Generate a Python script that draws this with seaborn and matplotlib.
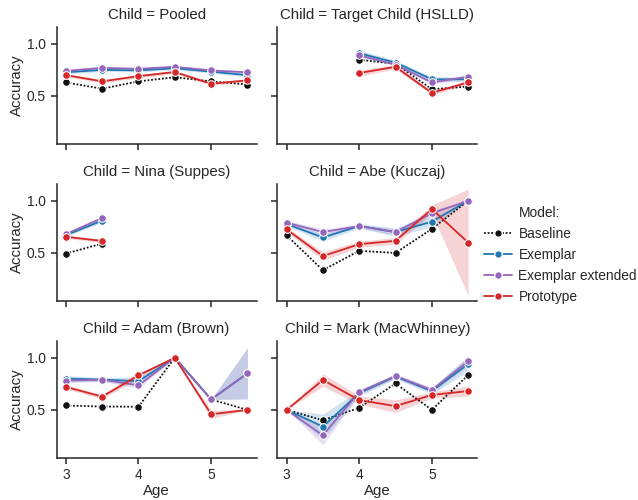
import numpy as np
import pandas as pd
import matplotlib
matplotlib.use("Agg")
import matplotlib.pyplot as plt
from matplotlib.lines import Line2D
import seaborn as sns

nan = np.nan

ages = [3, 3.5, 4, 4.5, 5, 5.5]
children = [
    "Pooled",
    "Target Child (HSLLD)",
    "Nina (Suppes)",
    "Abe (Kuczaj)",
    "Adam (Brown)",
    "Mark (MacWhinney)",
]
models = ["Baseline", "Exemplar", "Exemplar extended", "Prototype"]

# one row per child, one column per age
baseline_acc = [
    [0.63, 0.57, 0.64, 0.68, 0.64, 0.61],
    [nan, nan, 0.847, 0.81, 0.565, 0.59],
    [0.494, 0.59, nan, nan, nan, nan],
    [0.668, 0.335, 0.52, 0.50, 0.73, 1.0],
    [0.542, 0.532, 0.53, 1.0, 0.60, 0.50],
    [0.50, 0.40, 0.52, 0.753, 0.50, 0.834],
]
exemplar_acc = [
    [0.727, 0.75, 0.745, 0.766, 0.733, 0.70],
    [nan, nan, 0.91, 0.82, 0.66, 0.66],
    [0.67, 0.81, nan, nan, nan, nan],
    [0.777, 0.648, 0.758, 0.70, 0.80, 1.0],
    [0.80, 0.79, 0.775, 1.0, 0.60, 0.85],
    [0.50, 0.34, 0.66, 0.82, 0.68, 0.94],
]
extended_acc = [
    [0.74, 0.77, 0.76, 0.78, 0.745, 0.727],
    [nan, nan, 0.89, 0.80, 0.63, 0.685],
    [0.68, 0.835, nan, nan, nan, nan],
    [0.79, 0.70, 0.758, 0.70, 0.88, 1.0],
    [0.78, 0.79, 0.735, 1.0, 0.60, 0.85],
    [0.50, 0.256, 0.67, 0.825, 0.69, 0.967],
]
prototype_acc = [
    [0.70, 0.64, 0.69, 0.73, 0.617, 0.65],
    [nan, nan, 0.72, 0.78, 0.53, 0.63],
    [0.655, 0.615, nan, nan, nan, nan],
    [0.726, 0.47, 0.584, 0.616, 0.92, 0.60],
    [0.72, 0.627, 0.83, 1.0, 0.458, 0.50],
    [0.50, 0.786, 0.594, 0.536, 0.643, 0.68],
]

# half width of the confidence band
exemplar_ci = [
    [0.015, 0.015, 0.015, 0.015, 0.015, 0.015],
    [nan, nan, 0.03, 0.02, 0.025, 0.02],
    [0.015, 0.015, nan, nan, nan, nan],
    [0.02, 0.035, 0.02, 0.04, 0.05, 0.0],
    [0.03, 0.02, 0.04, 0.0, 0.0, 0.245],
    [0.0, 0.12, 0.03, 0.02, 0.03, 0.07],
]
extended_ci = [
    [0.012, 0.012, 0.012, 0.012, 0.012, 0.012],
    [nan, nan, 0.02, 0.015, 0.02, 0.015],
    [0.015, 0.015, nan, nan, nan, nan],
    [0.02, 0.03, 0.015, 0.03, 0.03, 0.0],
    [0.02, 0.015, 0.03, 0.0, 0.0, 0.245],
    [0.0, 0.09, 0.025, 0.02, 0.025, 0.05],
]
prototype_ci = [
    [0.015, 0.015, 0.015, 0.015, 0.015, 0.015],
    [nan, nan, 0.03, 0.02, 0.02, 0.02],
    [0.015, 0.015, nan, nan, nan, nan],
    [0.02, 0.04, 0.03, 0.03, 0.04, 0.51],
    [0.02, 0.02, 0.03, 0.0, 0.04, 0.0],
    [0.0, 0.06, 0.04, 0.06, 0.03, 0.05],
]

acc = dict(zip(models, [baseline_acc, exemplar_acc, extended_acc, prototype_acc]))
ci = dict(zip(models[1:], [exemplar_ci, extended_ci, prototype_ci]))

rows = []
for m in models:
    for c, child in enumerate(children):
        for a, age in enumerate(ages):
            v = acc[m][c][a]
            if np.isnan(v):
                continue
            e = ci[m][c][a] if m in ci else 0.0
            rows.append({"Child": child, "Age": age, "Model": m,
                         "Accuracy": v, "lo": v - e, "hi": v + e})
df = pd.DataFrame(rows)

sns.set_theme(context="notebook", style="ticks", font_scale=0.9)
plt.rcParams["font.family"] = ["Liberation Sans", "DejaVu Sans"]
plt.rcParams.update({
    "xtick.major.size": 4.5, "ytick.major.size": 4.5,
    "xtick.major.pad": 3, "ytick.major.pad": 3.5,
    "axes.labelpad": 1.5,
    "axes.linewidth": 1.1, "xtick.major.width": 1.1, "ytick.major.width": 1.1,
})

palette = {"Baseline": "#111111", "Exemplar": "#1f77b4",
           "Exemplar extended": "#9467bd", "Prototype": "#d62728"}
dashes = {"Baseline": (1, 1), "Exemplar": "", "Exemplar extended": "", "Prototype": ""}

g = sns.relplot(
    data=df, x="Age", y="Accuracy", col="Child", col_order=children, col_wrap=2,
    hue="Model", hue_order=models, style="Model", style_order=models,
    dashes=dashes, markers={m: "o" for m in models}, palette=palette,
    kind="line", errorbar=None, linewidth=1.3, markersize=5.5, legend=False,
    height=1.6, aspect=1.7,
)

for child, ax in g.axes_dict.items():
    sub = df[df["Child"] == child]
    for m in models[1:]:
        s = sub[sub["Model"] == m].sort_values("Age")
        ax.fill_between(s["Age"], s["lo"], s["hi"], color=palette[m], alpha=0.2, lw=0)

g.set(xticks=[3, 4, 5], yticks=[0.5, 1.0])
g.set_yticklabels(["0.5", "1.0"])

g.figure.set_size_inches(6.38, 5)
g.figure.subplots_adjust(left=0.089, right=0.748, top=0.946, bottom=0.084,
                         wspace=0.105, hspace=0.34)

handles = [Line2D([], [], color="none", label="Model:")]
for m in models:
    handles.append(Line2D([], [], color=palette[m], marker="o", markersize=5.5,
                          markeredgecolor="w", lw=1.3,
                          ls=(0, (1, 1)) if m == "Baseline" else "-", label=m))
g.figure.legend(handles=handles, loc="center left", bbox_to_anchor=(0.748, 0.49),
                frameon=False, fontsize=9.9, handlelength=2.0, handletextpad=0.5,
                borderaxespad=0.1)

g.figure.savefig("out.png", dpi=100)
